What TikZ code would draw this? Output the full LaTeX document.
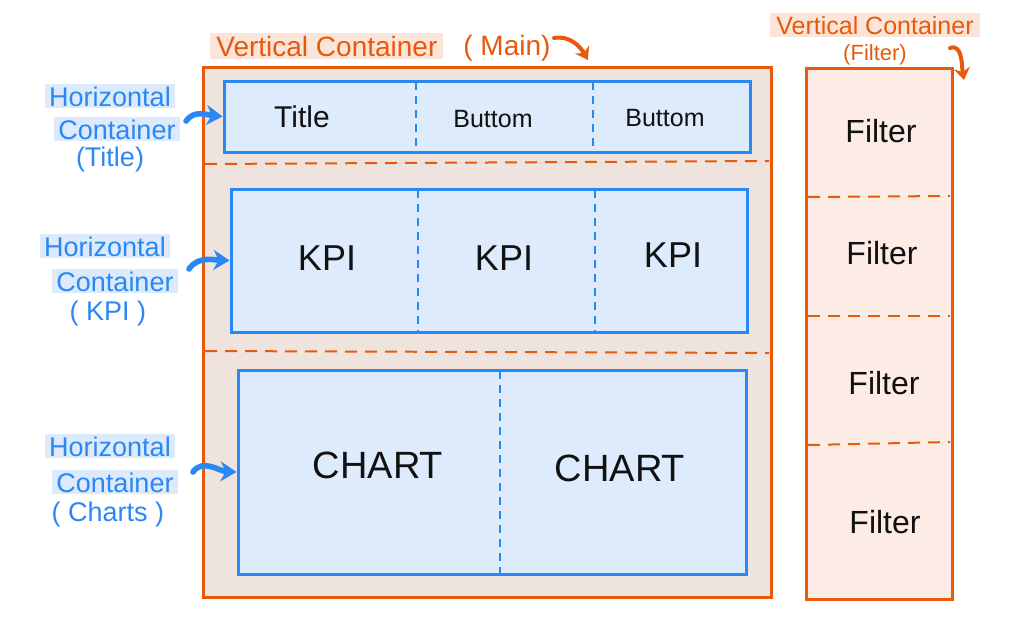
\documentclass[tikz,border=0pt]{standalone}
\usepackage{fontspec}
\setmainfont{Liberation Sans}
\usetikzlibrary{fit,arrows.meta}
\definecolor{orng}{HTML}{E8590C}
\definecolor{mainfill}{HTML}{EFE3DD}
\definecolor{filtfill}{HTML}{FCECE5}
\definecolor{blu}{HTML}{2A88F5}
\definecolor{blufill}{HTML}{DDEBFC}
\definecolor{hlblue}{HTML}{DCEAFB}
\definecolor{hlorng}{HTML}{FBE5D9}
\definecolor{ink}{HTML}{111111}
\tikzset{
  mainbox/.style={draw=orng, line width=1.5pt, fill=mainfill, inner sep=0pt},
  filtbox/.style={draw=orng, line width=1.5pt, fill=filtfill, inner sep=0pt},
  rowbox/.style={draw=blu, line width=1.5pt, fill=blufill, inner sep=0pt},
  odash/.style={draw=orng, line width=1pt, dash pattern=on 6pt off 4pt},
  bdash/.style={draw=blu, line width=1pt, dash pattern=on 4pt off 3pt},
  cell/.style={text=ink, inner sep=1pt},
  blbl/.style={text=blu, font=\fontsize{13.5}{15}\selectfont, inner sep=1pt, anchor=base},
  blblhl/.style={blbl, fill=hlblue, inner xsep=2pt},
  olbl/.style={text=orng, font=\fontsize{14}{16}\selectfont, inner sep=1.5pt},
  olblhl/.style={olbl, fill=hlorng, inner xsep=3pt},
  barrow/.style={draw=blu, line width=2.8pt, line cap=round, -{Stealth[length=8pt,width=10pt]}},
  oarrow/.style={draw=orng, line width=2pt, line cap=round, -{Stealth[length=6pt,width=8pt]}},
}
\begin{document}
\begin{tikzpicture}[x=0.5pt,y=-0.5pt]
\useasboundingbox (0,0) rectangle (1013,617);

% main vertical container
\node[mainbox, fit={(203,67) (771,597)}] (main) {};
% filter vertical container
\node[filtbox, fit={(806,68) (952,599)}] (filt) {};

% section separators in main
\draw[odash] (205,164) -- (769,161);
\draw[odash] (205,351) -- (769,353);

% title row
\node[rowbox, fit={(224,81) (750,152)}] (titlebox) {};
\draw[bdash] (416,82) -- (416,151);
\draw[bdash] (593,82) -- (593,151);
\node[cell, font=\fontsize{15}{17}\selectfont] (ttl) at (302,117) {Title};
\node[cell, font=\fontsize{12.5}{14}\selectfont] (bt1) at (493,119) {Buttom};
\node[cell, font=\fontsize{12.5}{14}\selectfont] (bt2) at (665,118) {Buttom};

% KPI row
\node[rowbox, fit={(231,189) (747,332)}] (kpibox) {};
\draw[bdash] (418,190) -- (418,331);
\draw[bdash] (595,190) -- (595,331);
\node[cell, font=\fontsize{18}{20}\selectfont] (k1) at (327,258) {KPI};
\node[cell, font=\fontsize{18}{20}\selectfont] (k2) at (504,258) {KPI};
\node[cell, font=\fontsize{18}{20}\selectfont] (k3) at (673,255) {KPI};

% chart row
\node[rowbox, fit={(238,370) (746,574)}] (chartbox) {};
\draw[bdash] (500,371) -- (500,573);
\node[cell, font=\fontsize{19}{21}\selectfont] (c1) at (378,465) {CHART};
\node[cell, font=\fontsize{19}{21}\selectfont] (c2) at (620,468) {CHART};

% filter cells
\draw[odash] (808,197) -- (950,196);
\draw[odash] (808,316) -- (950,316);
\draw[odash] (808,445) -- (950,442);
\node[cell, font=\fontsize{16}{18}\selectfont] (f1) at (881,131) {Filter};
\node[cell, font=\fontsize{16}{18}\selectfont] (f2) at (882,253) {Filter};
\node[cell, font=\fontsize{16}{18}\selectfont] (f3) at (884,383) {Filter};
\node[cell, font=\fontsize{16}{18}\selectfont] (f4) at (885,522) {Filter};

% headers
\node[olblhl, anchor=base west] (vh1) at (210,56) {Vertical Container};
\node[olbl, anchor=base west] (vh2) at (460,55) {( Main)};
\coordinate (mst) at (554,38);
\coordinate (mtip) at (588,60);
\draw[oarrow] (mst) to[out=10,in=120] (mtip);

\node[olblhl, font=\fontsize{12.5}{14}\selectfont, anchor=base] (fh1) at (875,34) {Vertical Container};
\node[olbl, font=\fontsize{11}{13}\selectfont, anchor=base] (fh2) at (875,60) {(Filter)};
\coordinate (fst) at (950,48);
\coordinate (ftip) at (964,80);
\draw[oarrow] (fst) to[out=20,in=100] (ftip);

% left labels
\node[blblhl] (t1) at (110,106) {Horizontal};
\node[blblhl] (t2) at (117,139) {Container};
\node[blbl] (t3) at (110,166) {(Title)};
\coordinate (ts) at (186,121);
\draw[barrow] (ts) to[out=55,in=175] (titlebox.west);

\node[blblhl] (p1) at (105,256) {Horizontal};
\node[blblhl] (p2) at (115,291) {Container};
\node[blbl] (p3) at (108,320) {( KPI )};
\coordinate (ps) at (189,269);
\draw[barrow] (ps) to[out=55,in=178] (kpibox.west);

\node[blblhl] (h1) at (110,456) {Horizontal};
\node[blblhl] (h2) at (115,492) {Container};
\node[blbl] (h3) at (108,521) {( Charts )};
\coordinate (hs) at (193,472);
\draw[barrow] (hs) to[out=55,in=178] (chartbox.west);
\end{tikzpicture}
\end{document}
